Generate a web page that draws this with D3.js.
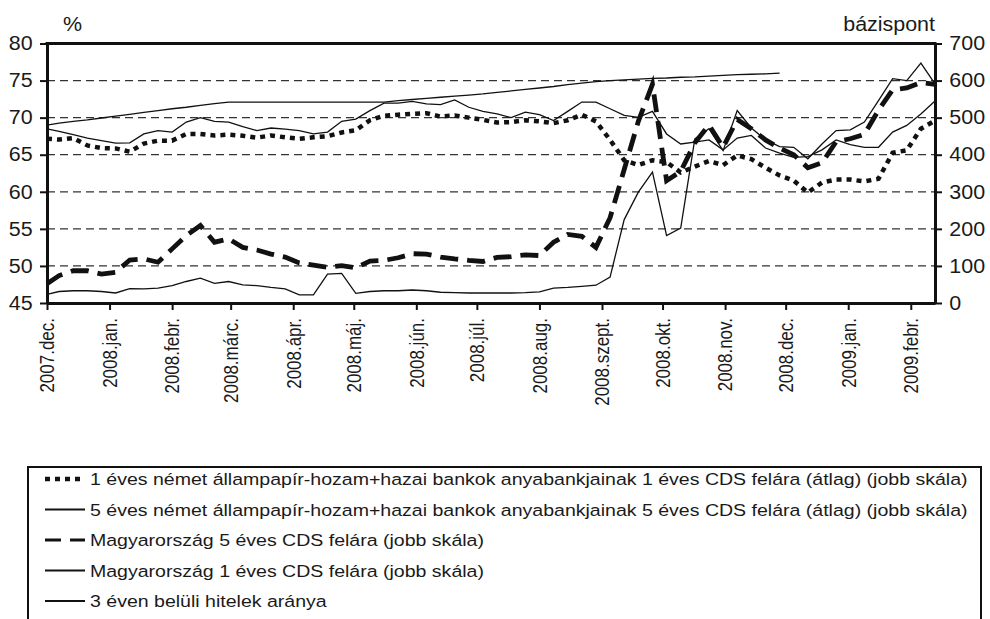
<!DOCTYPE html>
<html>
<head>
<meta charset="utf-8">
<title>CDS felárak és hitelek</title>
<script src="https://d3js.org/d3.v7.min.js"></script>
<style>
  body { margin: 0; background: #fff; }
  svg text { font-family: "Liberation Sans", Arial, sans-serif; fill: #1a1a1a; }
</style>
</head>
<body>
<svg width="990" height="619"></svg>
<script>
// weekly observations (Friday closes), first point at the start of the window
var dates = ["2007-12-01",
  "2007-12-07","2007-12-14","2007-12-21","2007-12-28",
  "2008-01-04","2008-01-11","2008-01-18","2008-01-25",
  "2008-02-01","2008-02-08","2008-02-15","2008-02-22","2008-02-29",
  "2008-03-07","2008-03-14","2008-03-21","2008-03-28",
  "2008-04-04","2008-04-11","2008-04-18","2008-04-25",
  "2008-05-02","2008-05-09","2008-05-16","2008-05-23","2008-05-30",
  "2008-06-06","2008-06-13","2008-06-20","2008-06-27",
  "2008-07-04","2008-07-11","2008-07-18","2008-07-25",
  "2008-08-01","2008-08-08","2008-08-15","2008-08-22","2008-08-29",
  "2008-09-05","2008-09-12","2008-09-19","2008-09-26",
  "2008-10-03","2008-10-10","2008-10-17","2008-10-24","2008-10-31",
  "2008-11-07","2008-11-14","2008-11-21","2008-11-28",
  "2008-12-05","2008-12-12","2008-12-19","2008-12-26",
  "2009-01-02","2009-01-09","2009-01-16","2009-01-23","2009-01-30",
  "2009-02-06","2009-02-13"];

// right scale, basis points
var german1y = [443,441,445,425,418,417,408,430,438,438,456,456,452,454,451,446,
  452,447,443,447,450,460,466,493,505,508,510,512,503,506,500,494,
  487,488,493,490,485,493,508,490,440,385,372,385,380,352,368,383,
  372,398,388,365,344,330,298,325,333,333,328,335,405,412,470,492];
var german5y = [470,463,454,445,438,431,432,456,465,461,488,500,490,488,476,465,
  472,469,465,456,461,490,496,519,539,539,544,537,535,548,528,517,
  510,500,515,508,492,517,542,542,524,506,501,517,456,429,434,440,
  413,445,452,418,404,393,395,413,440,427,420,420,461,479,510,545];
var hun5y = [52,74,87,87,78,83,116,119,110,146,182,209,164,173,150,143,
  132,124,108,102,96,101,95,113,115,122,133,132,124,119,115,112,
  123,125,130,128,164,185,180,150,230,360,490,590,330,355,432,480,
  420,495,470,440,418,400,365,378,435,443,455,520,575,580,595,590];
var hun1y = [23,31,33,33,31,27,39,38,40,47,58,67,53,58,49,47,
  42,38,22,22,78,80,26,31,33,33,35,33,29,28,27,27,
  27,27,28,30,40,42,45,48,70,225,299,353,182,202,443,470,
  411,519,472,440,422,420,389,429,465,467,488,546,605,600,647,591];
// left scale, percent (series stops at the end of November 2008)
var loans3y = [69.0,69.25,69.5,69.7,69.95,70.2,70.45,70.7,70.95,71.2,71.4,71.65,71.9,72.1,72.1,72.1,
  72.1,72.1,72.1,72.1,72.1,72.1,72.1,72.1,72.1,72.3,72.45,72.6,72.75,72.9,73.05,73.2,
  73.4,73.6,73.8,74.0,74.2,74.45,74.65,74.85,75.0,75.1,75.2,75.3,75.35,75.45,75.5,75.6,
  75.7,75.8,75.85,75.9,76.0,null,null,null,null,null,null,null,null,null,null,null];

var tickDates = ["2007-12-01","2008-01-01","2008-02-01","2008-03-01","2008-04-01","2008-05-01",
  "2008-06-01","2008-07-01","2008-08-01","2008-09-01","2008-10-01","2008-11-01",
  "2008-12-01","2009-01-01","2009-02-01"];
var tickLabels = ["2007.dec.","2008.jan.","2008.febr.","2008.márc.","2008.ápr.","2008.máj.",
  "2008.jún.","2008.júl.","2008.aug.","2008.szept.","2008.okt.","2008.nov.",
  "2008.dec.","2009.jan.","2009.febr."];
var leftTicks = [45,50,55,60,65,70,75,80];
var rightTicks = [0,100,200,300,400,500,600,700];

var seriesNames = [
  "1 éves német állampapír-hozam+hazai bankok anyabankjainak 1 éves CDS felára (átlag) (jobb skála)",
  "5 éves német állampapír-hozam+hazai bankok anyabankjainak 5 éves CDS felára (átlag) (jobb skála)",
  "Magyarország 5 éves CDS felára (jobb skála)",
  "Magyarország 1 éves CDS felára (jobb skála)",
  "3 éven belüli hitelek aránya"];

var parse = d3.timeParse("%Y-%m-%d");
var svg = d3.select("svg");
var pLeft = 47, pRight = 935, pTop = 43.5, pBottom = 303;
var sx = 1.1; // the source artwork is slightly stretched horizontally

var x = d3.scaleTime().domain([parse("2007-12-01"), parse("2009-02-13")]).range([pLeft, pRight]);
var yL = d3.scaleLinear().domain([45, 80]).range([pBottom, pTop]);
var yR = d3.scaleLinear().domain([0, 700]).range([pBottom, pTop]);

// dashed grid
svg.append("g").selectAll("line")
  .data(leftTicks.slice(1, -1))
  .enter().append("line")
  .attr("x1", pLeft).attr("x2", pRight)
  .attr("y1", function(d) { return yL(d); })
  .attr("y2", function(d) { return yL(d); })
  .attr("stroke", "#333").attr("stroke-width", 1.2)
  .attr("stroke-dasharray", "8,5");

function rows(vals) {
  return dates.map(function(d, i) { return { date: parse(d), v: vals[i] }; });
}
var lineR = d3.line().defined(function(d) { return d.v != null; })
  .x(function(d) { return x(d.date); }).y(function(d) { return yR(d.v); });
var lineL = d3.line().defined(function(d) { return d.v != null; })
  .x(function(d) { return x(d.date); }).y(function(d) { return yL(d.v); });

var styles = [
  { w: 4.5, dash: "5,5" },
  { w: 1.3, dash: null },
  { w: 4.8, dash: "18,9" },
  { w: 1.3, dash: null },
  { w: 1.3, dash: null }
];

var plot = svg.append("g").attr("fill", "none");
[[hun1y, lineR, 3], [german5y, lineR, 1], [german1y, lineR, 0], [hun5y, lineR, 2], [loans3y, lineL, 4]]
  .forEach(function(s) {
    var st = styles[s[2]];
    plot.append("path")
      .datum(rows(s[0]))
      .attr("d", s[1])
      .attr("stroke", "#111")
      .attr("stroke-width", st.w)
      .attr("stroke-dasharray", st.dash);
  });

// axes
var gL = svg.append("g").attr("transform", "translate(" + pLeft + ",0)")
  .call(d3.axisLeft(yL).tickValues(leftTicks).tickSize(7).tickSizeOuter(0).tickPadding(6));
var gR = svg.append("g").attr("transform", "translate(" + pRight + ",0)")
  .call(d3.axisRight(yR).tickValues(rightTicks).tickSize(7).tickSizeOuter(0).tickPadding(6));
var gB = svg.append("g").attr("transform", "translate(0," + pBottom + ")")
  .call(d3.axisBottom(x).tickValues(tickDates.map(parse)).tickSize(7).tickSizeOuter(0)
    .tickFormat(function(d, i) { return tickLabels[i]; }));

[gL, gR, gB].forEach(function(g) {
  g.select(".domain").attr("stroke", "#111").attr("stroke-width", 3);
  g.selectAll(".tick line").attr("stroke", "#111").attr("stroke-width", 2);
});
gL.selectAll("text").attr("font-size", 19.5).attr("transform", "scale(" + sx + ",1)");
gR.selectAll("text").attr("font-size", 19.5).attr("transform", "scale(" + sx + ",1)");
gB.selectAll("text")
  .attr("font-size", 17)
  .attr("transform", "scale(1.15,1) rotate(-90)")
  .attr("x", -15).attr("y", 0).attr("dy", "0.35em")
  .style("text-anchor", "end");

svg.append("line").attr("x1", pLeft - 1.5).attr("x2", pRight + 1.5)
  .attr("y1", pTop).attr("y2", pTop)
  .attr("stroke", "#111").attr("stroke-width", 3);

svg.append("text").attr("transform", "translate(63,31) scale(" + sx + ",1)")
  .attr("font-size", 19.5).text("%");
svg.append("text").attr("transform", "translate(" + pRight + ",31) scale(" + sx + ",1)")
  .attr("font-size", 19.5).attr("text-anchor", "end").text("bázispont");

// legend
var lg = svg.append("g");
lg.append("rect").attr("x", 28).attr("y", 467).attr("width", 953).attr("height", 200)
  .attr("fill", "none").attr("stroke", "#111").attr("stroke-width", 2);
var item = lg.selectAll(".item").data(seriesNames).enter().append("g")
  .attr("transform", function(d, i) { return "translate(0," + (479 + i * 30.5) + ")"; });
item.append("line").attr("x1", 45).attr("x2", 85).attr("y1", 0).attr("y2", 0)
  .attr("stroke", "#111")
  .attr("stroke-width", function(d, i) { return i == 0 ? 4.5 : (i == 2 ? 3 : 2); })
  .attr("stroke-dasharray", function(d, i) { return i == 2 ? "16,9" : styles[i].dash; });
item.append("text")
  .attr("transform", "translate(90,6) scale(1.15,1)")
  .attr("font-size", 17)
  .text(function(d) { return d; });
</script>
</body>
</html>
